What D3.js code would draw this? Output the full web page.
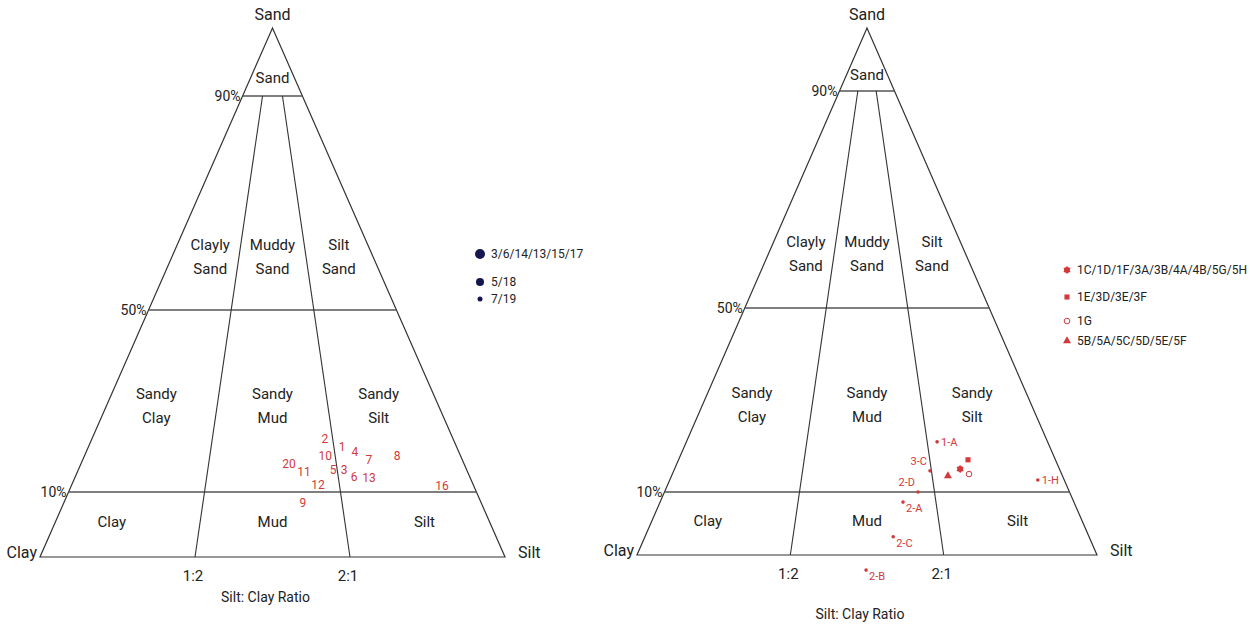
<!DOCTYPE html>
<html lang="en">
<head>
    <meta charset="UTF-8">
    <title>Folk ternary diagrams</title>
    <script src="https://d3js.org/d3.v7.min.js"></script>
    <style>
        body { margin: 0; background: #fff; }
        text { font-family: "Liberation Sans Narrow", "Roboto", sans-serif; fill: #222; }
        .edge { fill: none; stroke: #333; stroke-width: 1.2; }
        .hline { stroke: #555; stroke-width: 1.6; }
        .rline { stroke: #333; stroke-width: 1.1; }
        .red { fill: #d2393b; }
    </style>
</head>
<body>
<svg id="chart" width="1250" height="629"></svg>

<script>
    // sand levels drawn as horizontal class limits
    const sandLevels = [0, 10, 50, 90, 100];
    const sandLines = [10, 50, 90];
    const sandLineLabels = ["10%", "50%", "90%"];
    // silt fraction of mud for the 1:2 and 2:1 ratio lines
    const ratioFractions = [1 / 3, 2 / 3];
    const ratioLabels = ["1:2", "2:1"];

    // class names: sand %, silt fraction of mud (0..1)
    const zoneNames = [["Sand"], ["Clayly", "Sand"], ["Muddy", "Sand"], ["Silt", "Sand"],
        ["Sandy", "Clay"], ["Sandy", "Mud"], ["Sandy", "Silt"], ["Clay"], ["Mud"], ["Silt"]];
    const zoneSand = [92.6, 60, 60, 60, 29, 29, 29, 5.4, 5.4, 5.4];
    const zoneSilt = [0.5, 0.19, 0.5, 0.83, 0.15, 0.5, 0.82, 0.13, 0.5, 0.85];

    // left diagram: sample numbers
    const leftSamples = ["2", "1", "10", "4", "7", "8", "20", "11", "5", "3", "6", "13", "12", "16", "9"];
    const leftSand = [21.6, 19.9, 17.9, 18.8, 17.0, 17.9, 16.2, 14.4, 14.8, 14.8, 13.3, 13.1, 11.5, 11.3, 8.3];
    const leftSilt = [0.645, 0.689, 0.640, 0.721, 0.754, 0.831, 0.543, 0.581, 0.656, 0.684, 0.707, 0.744, 0.613, 0.921, 0.573];

    const leftLegend = ["3/6/14/13/15/17", "5/18", "7/19"];

    // right diagram: labelled cores
    const rightSamples = ["1-A", "3-C", "2-D", "2-A", "2-C", "2-B", "1-H"];
    const rightSand = [20.9, 14.6, 10.0, 8.4, 2.9, -2.4, 12.6];
    const rightSilt = [0.694, 0.663, 0.626, 0.587, 0.559, 0.498, 0.933];
    const rightLabelSide = ["r", "tl", "tl", "br", "br", "br", "r"];

    // right diagram: grouped cores
    const groupNames = ["1C/1D/1F/3A/3B/4A/4B/5G/5H", "1E/3D/3E/3F", "1G", "5B/5A/5C/5D/5E/5F"];
    const groupSand = [15.0, 17.0, 13.9, 13.5];
    const groupSilt = [0.742, 0.768, 0.762, 0.707];
    const groupShape = ["star", "square", "ring", "triangle"];

    const svg = d3.select("#chart");
    const red = "#d2393b";

    function makePanel(p) {
        const yScale = d3.scaleLinear().domain(sandLevels).range(p.yRange);
        const pos = (sand, f) => {
            const y = yScale(sand);
            const hw = p.halfBase * (y - p.apexY) / (p.baseY - p.apexY);
            const x = d3.scaleLinear().domain([0, 1]).range([p.apexX - hw, p.apexX + hw])(f);
            return [x, y];
        };
        const g = svg.append("g");

        // triangle outline
        const corners = [pos(100, 0.5), pos(0, 0), pos(0, 1)];
        g.append("path").attr("class", "edge")
            .attr("d", d3.line()(corners) + "Z");

        // horizontal sand limits
        g.selectAll(".hline").data(sandLines).join("line")
            .attr("class", "hline")
            .attr("x1", d => pos(d, 0)[0]).attr("y1", d => pos(d, 0)[1])
            .attr("x2", d => pos(d, 1)[0]).attr("y2", d => pos(d, 1)[1]);
        g.selectAll(".plab").data(sandLines).join("text")
            .attr("x", d => pos(d, 0)[0] - 2).attr("y", d => pos(d, 0)[1] + 5)
            .attr("text-anchor", "end").attr("font-size", 14)
            .text((d, i) => sandLineLabels[i]);

        // silt:clay ratio lines up to the 90% line
        g.selectAll(".rline").data(ratioFractions).join("line")
            .attr("class", "rline")
            .attr("x1", d => pos(0, d)[0]).attr("y1", d => pos(0, d)[1])
            .attr("x2", d => pos(90, d)[0]).attr("y2", d => pos(90, d)[1]);
        g.selectAll(".rlab").data(ratioFractions).join("text")
            .attr("x", d => pos(0, d)[0] - 2).attr("y", p.baseY + 24)
            .attr("text-anchor", "middle").attr("font-size", 15)
            .text((d, i) => ratioLabels[i]);

        // corner names
        g.append("text").attr("x", p.apexX).attr("y", p.apexY - 8)
            .attr("text-anchor", "middle").attr("font-size", 16).text("Sand");
        g.append("text").attr("x", corners[1][0] - 3).attr("y", p.baseY + 1)
            .attr("text-anchor", "end").attr("font-size", 16).text("Clay");
        g.append("text").attr("x", corners[2][0] + 13).attr("y", p.baseY + 1)
            .attr("text-anchor", "start").attr("font-size", 16).text("Silt");
        g.append("text").attr("x", p.apexX - 7).attr("y", p.titleY)
            .attr("text-anchor", "middle").attr("font-size", 14).text("Silt: Clay Ratio");

        // class names
        zoneNames.forEach((lines, i) => {
            const [x, y] = pos(zoneSand[i], zoneSilt[i]);
            const t = g.append("text").attr("text-anchor", "middle").attr("font-size", 15);
            lines.forEach((l, j) => {
                t.append("tspan").attr("x", x)
                    .attr("y", y + 5 + (j - (lines.length - 1) / 2) * 24)
                    .text(l);
            });
        });
        return { g, pos };
    }

    // ---- left diagram
    const L = makePanel({ apexX: 272.5, apexY: 28, baseY: 557, halfBase: 232.5,
        yRange: [557, 492, 310, 96, 28], titleY: 602 });

    L.g.selectAll(".num").data(leftSamples).join("text")
        .attr("class", "red")
        .attr("x", (d, i) => L.pos(leftSand[i], leftSilt[i])[0])
        .attr("y", (d, i) => L.pos(leftSand[i], leftSilt[i])[1] + 4)
        .attr("text-anchor", "middle").attr("font-size", 12)
        .text(d => d);

    const legR = d3.scaleOrdinal().domain(leftLegend).range([5, 4, 2.5]);
    const legY = d3.scaleOrdinal().domain(leftLegend).range([254, 282, 299]);
    L.g.selectAll(".leg").data(leftLegend).join("circle")
        .attr("cx", 480).attr("cy", d => legY(d)).attr("r", d => legR(d))
        .attr("fill", "#15154f");
    L.g.selectAll(".legt").data(leftLegend).join("text")
        .attr("x", 491).attr("y", d => legY(d) + 4).attr("font-size", 12)
        .text(d => d);

    // ---- right diagram
    const R = makePanel({ apexX: 867, apexY: 28, baseY: 555, halfBase: 230,
        yRange: [555, 492, 308, 91, 28], titleY: 619 });

    const offsets = { r: [4, 4, "start"], tl: [-3, -6, "end"], br: [3, 10, "start"] };
    rightSamples.forEach((name, i) => {
        const [x, y] = R.pos(rightSand[i], rightSilt[i]);
        R.g.append("circle").attr("cx", x).attr("cy", y).attr("r", 1.8).attr("fill", red);
        const o = offsets[rightLabelSide[i]];
        R.g.append("text").attr("class", "red")
            .attr("x", x + o[0]).attr("y", y + o[1])
            .attr("text-anchor", o[2]).attr("font-size", 11)
            .text(name);
    });

    function marker(g, shape, x, y) {
        if (shape === "star") {
            g.append("circle").attr("cx", x).attr("cy", y).attr("r", 3).attr("fill", red);
            g.append("path").attr("transform", `translate(${x},${y})`)
                .attr("d", d3.symbol(d3.symbolAsterisk, 40)())
                .attr("stroke", red).attr("stroke-width", 1.2).attr("fill", "none");
        } else if (shape === "square") {
            g.append("path").attr("transform", `translate(${x},${y})`)
                .attr("d", d3.symbol(d3.symbolSquare, 26)()).attr("fill", red);
        } else if (shape === "ring") {
            g.append("circle").attr("cx", x).attr("cy", y).attr("r", 2.8)
                .attr("fill", "#fff").attr("stroke", red).attr("stroke-width", 1);
        } else {
            g.append("path").attr("transform", `translate(${x},${y})`)
                .attr("d", d3.symbol(d3.symbolTriangle, 28)()).attr("fill", red);
        }
    }

    groupNames.forEach((name, i) => {
        const [x, y] = R.pos(groupSand[i], groupSilt[i]);
        marker(R.g, groupShape[i], x, y);
    });

    const rLegY = d3.scaleOrdinal().domain(groupNames).range([270, 297, 321, 341]);
    groupNames.forEach((name, i) => {
        marker(R.g, groupShape[i], 1067, rLegY(name));
        R.g.append("text").attr("x", 1077).attr("y", rLegY(name) + 4)
            .attr("font-size", 12).text(name);
    });
</script>
</body>
</html>
